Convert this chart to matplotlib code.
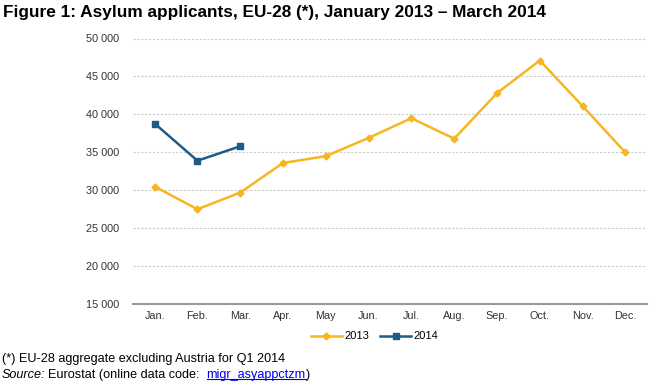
import matplotlib
matplotlib.use("Agg")
import matplotlib.pyplot as plt
from matplotlib.ticker import FuncFormatter

months = ["Jan.", "Feb.", "Mar.", "Apr.", "May", "Jun.", "Jul.", "Aug.", "Sep.", "Oct.", "Nov.", "Dec."]
values_2013 = [30500, 27500, 29700, 33600, 34500, 36900, 39500, 36800, 42800, 47100, 41100, 35000]
months_2014 = ["Jan.", "Feb.", "Mar."]
values_2014 = [38800, 33900, 35800]
yticks = [15000, 20000, 25000, 30000, 35000, 40000, 45000, 50000]

plt.rcParams['font.family'] = ['Liberation Sans', 'DejaVu Sans']

fig = plt.figure(figsize=(6.5, 3.85), dpi=100)
ax = fig.add_axes([0.205, 0.21, 0.79, 0.69])

x13 = list(range(len(months)))
x14 = [months.index(m) for m in months_2014]
orange = "#F7B522"
blue = "#1C5C86"
ax.plot(x13, values_2013, color=orange, lw=1.8, marker="D", ms=3.5, label="2013", zorder=3)
ax.plot(x14, values_2014, color=blue, lw=1.8, marker="s", ms=5, label="2014", zorder=3)

ax.set_ylim(15000, 50000)
ax.set_yticks(yticks)
ax.yaxis.set_major_formatter(FuncFormatter(lambda v, p: f"{int(v):,}".replace(",", " ")))
ax.set_xlim(-0.5, len(months) - 0.5)
ax.set_xticks(x13)
ax.set_xticklabels(months)
ax.tick_params(axis='both', length=0, labelsize=7.8, colors="#333333")
ax.tick_params(axis='y', pad=10)
ax.tick_params(axis='x', pad=5)
ax.grid(axis='y', color="#cccccc", linestyle=(0, (2, 1.5)), lw=0.8)
for s in ["top", "right", "left"]:
    ax.spines[s].set_visible(False)
ax.spines["bottom"].set_color("#999999")
ax.spines["bottom"].set_linewidth(1.5)

leg = ax.legend(loc="upper center", bbox_to_anchor=(0.47, -0.065), ncol=2, frameon=False,
                fontsize=8, handlelength=2.8, columnspacing=1.0, handletextpad=0.2)

fs = 9.1
fig.text(0.005, 0.968, "Figure 1: Asylum applicants, EU-28 (*), January 2013 \u2013 March 2014",
         fontsize=12.4, fontweight="bold", va="center", ha="left")
fig.text(0.003, 0.068, "(*) EU-28 aggregate excluding Austria for Q1 2014", fontsize=fs, va="center")
y2 = 0.027
t1 = fig.text(0.003, y2, "Source:", fontsize=fs, va="center", style="italic")
fig.canvas.draw()
bb = t1.get_window_extent()
x1 = bb.x1 / fig.bbox.width
t2 = fig.text(x1 + 0.004, y2, "Eurostat (online data code:  ", fontsize=fs, va="center")
fig.canvas.draw()
x2 = t2.get_window_extent().x1 / fig.bbox.width
t3 = fig.text(x2, y2, "migr_asyappctzm", fontsize=fs, va="center", color="#0000EE")
fig.canvas.draw()
b3 = t3.get_window_extent()
x3 = b3.x1 / fig.bbox.width
fig.add_artist(plt.Line2D([x2, x3], [b3.y0 / fig.bbox.height + 0.003] * 2, color="#0000EE", lw=0.8,
                          transform=fig.transFigure))
fig.text(x3, y2, ")", fontsize=fs, va="center")

fig.savefig("out.png", dpi=100)
